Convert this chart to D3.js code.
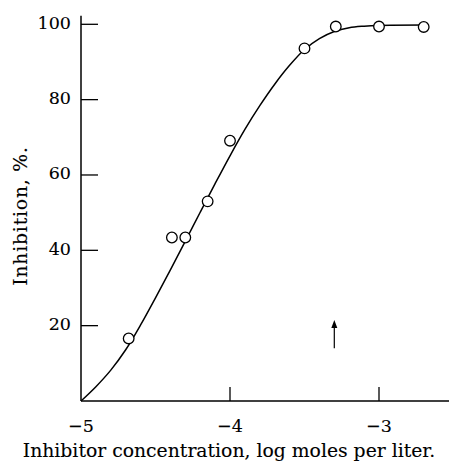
<!DOCTYPE html>
<html>
<head>
<meta charset="utf-8">
<script src="https://cdn.jsdelivr.net/npm/d3@7"></script>
<style>
  body { margin: 0; background: #fff; }
  text { font-family: "DejaVu Serif", serif; fill: #000; stroke: #000; stroke-width: 0.12; }
</style>
</head>
<body>
<svg id="chart" width="449" height="462"></svg>
<script>
// measured points (log conc, % inhibition)
const pointX = [-4.68, -4.39, -4.30, -4.15, -4.0, -3.5, -3.29, -3.0, -2.7];
const pointY = [16.6, 43.4, 43.4, 53.0, 69.1, 93.6, 99.4, 99.4, 99.3];

// fitted curve
const curveX = [-5, -4.9, -4.8, -4.7, -4.6, -4.5, -4.4, -4.3, -4.2, -4.1, -4.0, -3.9, -3.8, -3.7, -3.6, -3.5, -3.4, -3.3, -3.2, -3.1, -3.0, -2.7];
const curveY = [0, 3.8, 8.2, 13.6, 20.2, 27.4, 34.8, 42.4, 50.1, 57.7, 65.1, 72.1, 78.4, 84.1, 89.1, 93.3, 96.2, 98.1, 99.1, 99.5, 99.7, 99.8];

const xTicks = [-5, -4, -3];
const yTicks = [20, 40, 60, 80, 100];

// arrow marking a concentration
const arrowX = -3.3;
const arrowY = [14, 21.5];

const xLabel = "Inhibitor concentration, log moles per liter.";
const yLabel = "Inhibition, %.";

const svg = d3.select("#chart"),
  width = +svg.attr("width"),
  height = +svg.attr("height");

const x = d3.scaleLinear().domain([-5, -3]).range([81, 379]);
const y = d3.scaleLinear().domain([0, 100]).range([401, 24.3]);

// axes
svg.append("line")
  .attr("x1", x(-5)).attr("x2", width)
  .attr("y1", y(0)).attr("y2", y(0))
  .attr("stroke", "#000").attr("stroke-width", 1.5);
svg.append("line")
  .attr("x1", x(-5)).attr("x2", x(-5))
  .attr("y1", y(0)).attr("y2", y(102.3))
  .attr("stroke", "#000").attr("stroke-width", 1.5);

svg.selectAll(".ytick")
  .data(yTicks)
  .enter()
  .append("line")
  .attr("class", "ytick")
  .attr("x1", x(-5)).attr("x2", x(-5) + 17)
  .attr("y1", (d) => y(d)).attr("y2", (d) => y(d))
  .attr("stroke", "#000").attr("stroke-width", 1.3);

svg.selectAll(".ylab")
  .data(yTicks)
  .enter()
  .append("text")
  .attr("class", "ylab")
  .attr("x", 71)
  .attr("y", (d) => y(d) + 4.5)
  .attr("text-anchor", "end")
  .style("font-size", "17.5px")
  .text((d) => d);

svg.selectAll(".xtick")
  .data(xTicks.filter((d) => d !== -5))
  .enter()
  .append("line")
  .attr("class", "xtick")
  .attr("x1", (d) => x(d)).attr("x2", (d) => x(d))
  .attr("y1", y(0)).attr("y2", y(0) - 14)
  .attr("stroke", "#000").attr("stroke-width", 1.3);

svg.selectAll(".xlab")
  .data(xTicks)
  .enter()
  .append("text")
  .attr("class", "xlab")
  .attr("x", (d) => x(d))
  .attr("y", 432)
  .attr("text-anchor", "middle")
  .style("font-size", "17.5px")
  .text((d) => "\u2212" + Math.abs(d));

svg.append("text")
  .attr("x", 229)
  .attr("y", 457)
  .attr("text-anchor", "middle")
  .style("font-size", "18.8px")
  .text(xLabel);

svg.append("text")
  .attr("transform", "translate(27,216) rotate(-90)")
  .attr("text-anchor", "middle")
  .style("font-size", "18.8px")
  .style("letter-spacing", "0.8px")
  .text(yLabel);

// curve
const line = d3.line()
  .x((d) => x(d[0]))
  .y((d) => y(d[1]))
  .curve(d3.curveCatmullRom.alpha(0.5));

svg.append("path")
  .datum(d3.zip(curveX, curveY))
  .attr("d", line)
  .attr("fill", "none")
  .attr("stroke", "#000")
  .attr("stroke-width", 1.5);

// points
svg.selectAll("circle")
  .data(d3.zip(pointX, pointY))
  .enter()
  .append("circle")
  .attr("cx", (d) => x(d[0]))
  .attr("cy", (d) => y(d[1]))
  .attr("r", 5.3)
  .attr("fill", "#fff")
  .attr("stroke", "#000")
  .attr("stroke-width", 1.3);

// arrow
svg.append("line")
  .attr("x1", x(arrowX)).attr("x2", x(arrowX))
  .attr("y1", y(arrowY[0])).attr("y2", y(arrowY[1]) + 4)
  .attr("stroke", "#000").attr("stroke-width", 1.2);
svg.append("path")
  .attr("d", d3.line()([
    [x(arrowX) - 3, y(arrowY[1]) + 8],
    [x(arrowX), y(arrowY[1])],
    [x(arrowX) + 3, y(arrowY[1]) + 8]
  ]) + "Z")
  .attr("fill", "#000");
</script>
</body>
</html>
